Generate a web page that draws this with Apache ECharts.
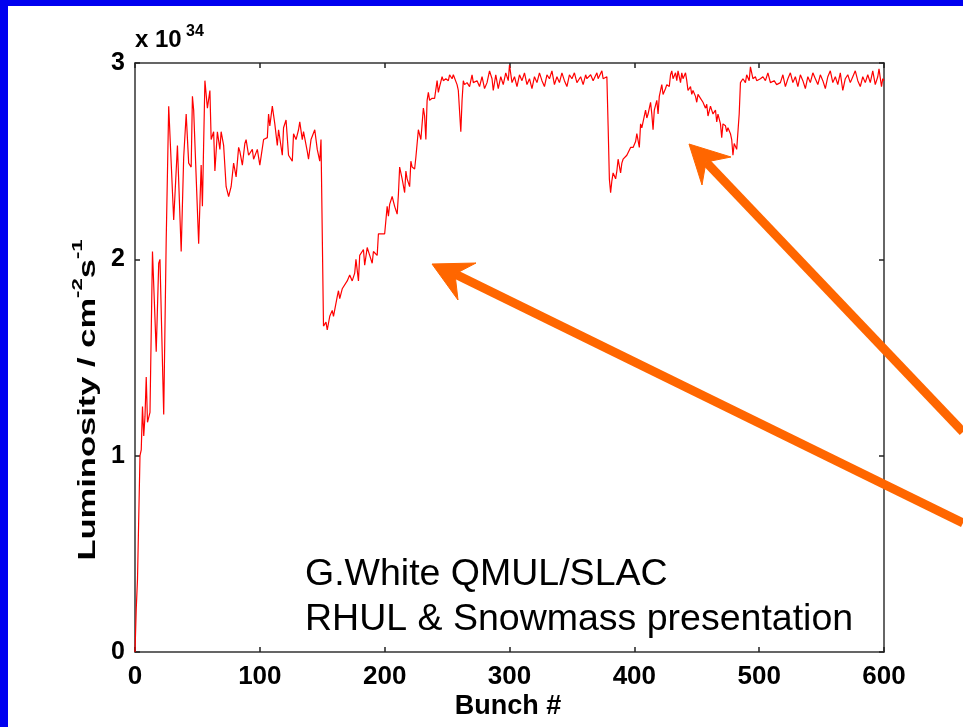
<!DOCTYPE html>
<html>
<head>
<meta charset="utf-8">
<script src="https://cdn.jsdelivr.net/npm/echarts@6/dist/echarts.min.js"></script>
<style>
  html, body { margin: 0; padding: 0; background: #ffffff; }
  #chart { width: 963px; height: 727px; }
</style>
</head>
<body>
<div id="chart"></div>
<script>
// Bunch-by-bunch luminosity (units of 1e34 cm^-2 s^-1)
const bunchNo = [
  0,1,2,4,5,6,7,8,9,10,12,13,14,17,19,20,23,25,27,
  31,34,37,39,41,43,45,46,47,48,51,53,54,56,58,60,61,63,64,66,68,69,71,73,75,77,79,81,83,84,86,88,89,91,94,95,98,100,
  103,106,107,108,110,112,114,115,118,119,121,123,126,127,129,131,132,134,135,138,139,141,142,144,146,148,149,150,
  151,152,153,154,156,158,159,162,163,164,166,170,172,174,176,177,179,180,183,184,186,188,190,191,192,194,195,198,200,
  202,203,204,206,208,210,211,212,214,216,217,218,220,221,222,224,225,226,227,229,231,232,233,234,235,236,238,239,240,
  242,243,244,246,247,249,251,252,254,255,256,258,259,261,262,263,264,266,268,270,271,274,276,278,279,280,282,284,286,287,289,291,
  293,295,297,299,300,302,304,306,308,310,312,314,316,318,320,322,324,326,328,330,332,334,336,338,340,342,344,346,348,350,
  352,354,357,359,361,362,365,367,370,371,374,375,378,
  379,380,381,382,383,385,386,387,389,390,391,394,395,397,398,399,401,402,404,405,406,407,409,410,411,413,414,415,416,418,419,
  420,421,422,423,425,426,428,429,430,431,433,434,435,437,438,439,441,442,443,445,446,447,449,450,451,453,454,455,457,458,459,
  461,462,463,465,466,467,469,470,471,473,474,475,477,478,479,480,482,483,484,485,
  487,489,490,492,493,495,497,498,501,503,505,507,509,512,514,517,519,521,523,525,527,529,531,533,535,537,539,541,543,545,
  547,549,551,553,555,557,559,561,563,565,567,569,571,573,575,577,579,581,583,585,587,589,591,593,595,596,598,599,600
];
const lumi = [
  0.00,0.22,0.37,1.00,1.03,1.25,1.10,1.20,1.40,1.17,1.22,1.22,2.04,1.53,1.98,2.00,1.21,2.10,2.78,
  2.20,2.58,2.04,2.52,2.74,2.49,2.47,2.83,2.76,2.77,2.08,2.48,2.27,2.91,2.77,2.86,2.61,2.65,2.45,2.65,2.56,2.65,2.58,2.37,2.32,2.37,2.49,2.42,2.57,2.55,2.48,2.59,2.61,2.53,2.56,2.51,2.56,2.48,
  2.61,2.62,2.74,2.68,2.78,2.69,2.58,2.66,2.53,2.67,2.71,2.53,2.50,2.64,2.61,2.66,2.70,2.61,2.65,2.55,2.51,2.61,2.60,2.66,2.56,2.50,2.61,2.61,
  1.66,1.65,1.68,1.64,1.71,1.74,1.71,1.81,1.84,1.80,1.85,1.89,1.92,1.89,1.93,2.00,1.89,2.02,2.05,1.97,2.06,2.02,1.98,2.04,2.04,2.02,2.13,2.13,2.13,
  2.27,2.22,2.28,2.32,2.27,2.23,2.33,2.47,2.41,2.34,2.45,2.41,2.37,2.50,2.47,2.46,2.52,2.53,2.66,2.61,2.77,2.73,2.61,2.81,2.85,2.81,2.82,2.81,2.82,
  2.91,2.85,2.88,2.93,2.91,2.92,2.91,2.94,2.92,2.94,2.93,2.89,2.86,2.65,2.81,2.91,2.89,2.90,2.88,2.94,2.90,2.91,2.88,2.93,2.90,2.87,2.90,2.96,2.92,2.86,2.94,2.87,
  2.93,2.89,2.95,2.91,2.99,2.90,2.93,2.88,2.94,2.91,2.95,2.89,2.92,2.87,2.93,2.90,2.95,2.91,2.88,2.94,2.92,2.96,2.89,2.93,2.90,2.95,2.91,2.88,2.94,2.92,
  2.95,2.90,2.93,2.89,2.94,2.92,2.94,2.91,2.95,2.92,2.96,2.92,2.93,
  2.68,2.41,2.34,2.40,2.44,2.41,2.45,2.51,2.44,2.49,2.51,2.53,2.52,2.57,2.56,2.57,2.60,2.64,2.57,2.69,2.67,2.70,2.76,2.72,2.74,2.80,2.74,2.66,2.76,2.81,2.74,
  2.83,2.86,2.89,2.84,2.87,2.89,2.88,2.94,2.96,2.92,2.95,2.91,2.96,2.90,2.95,2.92,2.95,2.91,2.86,2.88,2.84,2.86,2.83,2.80,2.84,2.82,2.83,2.80,2.77,2.79,2.73,
  2.78,2.76,2.74,2.76,2.70,2.74,2.69,2.62,2.69,2.68,2.65,2.67,2.64,2.61,2.53,2.59,2.56,2.57,2.74,2.90,
  2.92,2.90,2.94,2.91,2.98,2.92,2.93,2.91,2.92,2.93,2.91,2.95,2.90,2.91,2.89,2.90,2.94,2.88,2.92,2.95,2.90,2.93,2.88,2.94,2.91,2.87,2.93,2.90,2.95,2.92,
  2.89,2.94,2.91,2.87,2.93,2.96,2.90,2.93,2.89,2.95,2.86,2.92,2.94,2.90,2.93,2.96,2.91,2.88,2.93,2.90,2.94,2.90,2.96,2.89,2.93,2.97,2.88,2.92,2.91
];

// Axis ranges and tick labels
const xTicks = [0, 100, 200, 300, 400, 500, 600];
const yTicks = [0, 1, 2, 3];

const credits = ['G.White QMUL/SLAC', 'RHUL & Snowmass presentation'];

const FONT = '"Liberation Sans", Arial, sans-serif';
const ORANGE = '#ff6600';

const chart = echarts.init(document.getElementById('chart'), null, { renderer: 'canvas' });

const points = bunchNo.map((b, i) => [b, lumi[i]]);

function tickLabel(size) {
  return { fontFamily: FONT, fontWeight: 'bold', fontSize: size, color: '#000' };
}

function xAx(pos, labels) {
  return {
    type: 'value', position: pos, min: xTicks[0], max: xTicks[xTicks.length - 1], interval: 100,
    axisLine: { show: true, onZero: false, lineStyle: { color: '#333', width: 1.5 } },
    axisTick: { show: true, inside: true, length: 5, lineStyle: { color: '#222', width: 1.5 } },
    axisLabel: Object.assign({ show: labels, margin: 12 }, tickLabel(26)),
    splitLine: { show: false }
  };
}
function yAx(pos, labels) {
  return {
    type: 'value', position: pos, min: yTicks[0], max: yTicks[yTicks.length - 1], interval: 1,
    axisLine: { show: true, onZero: false, lineStyle: { color: '#333', width: 1.5 } },
    axisTick: { show: true, inside: true, length: 5, lineStyle: { color: '#222', width: 1.5 } },
    axisLabel: Object.assign({ show: labels, margin: 10 }, tickLabel(25)),
    splitLine: { show: false }
  };
}

// Arrow drawn as a thick shaft plus a barbed head
function arrow(tail, notch, tip, barbA, barbB) {
  return [
    { type: 'polyline', z: 100, shape: { points: [tail, notch] },
      style: { stroke: ORANGE, lineWidth: 9, fill: null } },
    { type: 'polygon', z: 100, shape: { points: [tip, barbA, notch, barbB] },
      style: { fill: ORANGE, stroke: ORANGE, lineWidth: 1 } }
  ];
}

const option = {
  animation: false,
  backgroundColor: '#ffffff',
  grid: { left: 135, top: 63, width: 749, height: 589, containLabel: false },
  xAxis: [xAx('bottom', true), xAx('top', false)],
  yAxis: [yAx('left', true), yAx('right', false)],
  series: [{
    type: 'line',
    data: points,
    showSymbol: false,
    symbol: 'none',
    lineStyle: { color: '#ff0000', width: 1.2 },
    z: 5
  }],
  graphic: [
    // slide frame
    { type: 'rect', z: 200, shape: { x: 0, y: 0, width: 963, height: 6 }, style: { fill: '#0000f0' } },
    { type: 'rect', z: 200, shape: { x: 0, y: 0, width: 8, height: 727 }, style: { fill: '#0000f0' } },
    // exponent
    { type: 'text', z: 50, x: 135, y: 52,
      style: { text: 'x 10', font: 'bold 24px ' + FONT, fill: '#000', textVerticalAlign: 'bottom' } },
    { type: 'text', z: 50, x: 186, y: 40,
      style: { text: '34', font: 'bold 16px ' + FONT, fill: '#000', textVerticalAlign: 'bottom' } },
    // axis titles
    { type: 'text', z: 50, x: 508, y: 707,
      style: { text: 'Bunch #', font: 'bold 27px ' + FONT, fill: '#000', textAlign: 'center', textVerticalAlign: 'middle' } },
    { type: 'text', z: 50, x: 85, y: 400, rotation: Math.PI / 2, scaleX: 1.38, scaleY: 0.95,
      style: {
        text: '{m|Luminosity / cm}{s|-2}{m|s}{s|-1}',
        textAlign: 'center', textVerticalAlign: 'middle',
        rich: {
          m: { font: 'bold 25px ' + FONT, fill: '#000', lineHeight: 32, verticalAlign: 'bottom' },
          s: { font: 'bold 16px ' + FONT, fill: '#000', lineHeight: 32, verticalAlign: 'top' }
        }
      } },
    // credits
    { type: 'text', z: 50, x: 305, y: 594,
      style: { text: credits[0], font: '37.5px ' + FONT, fill: '#000', textVerticalAlign: 'bottom' } },
    { type: 'text', z: 50, x: 305, y: 639,
      style: { text: credits[1], font: '37.5px ' + FONT, fill: '#000', textVerticalAlign: 'bottom' } }
  ]
    .concat(arrow([963, 523], [455, 274], [432, 264], [476, 263], [458, 300]))
    .concat(arrow([963, 432], [706, 162], [689, 144], [731, 157], [702, 185]))
};

chart.setOption(option);
</script>
</body>
</html>
